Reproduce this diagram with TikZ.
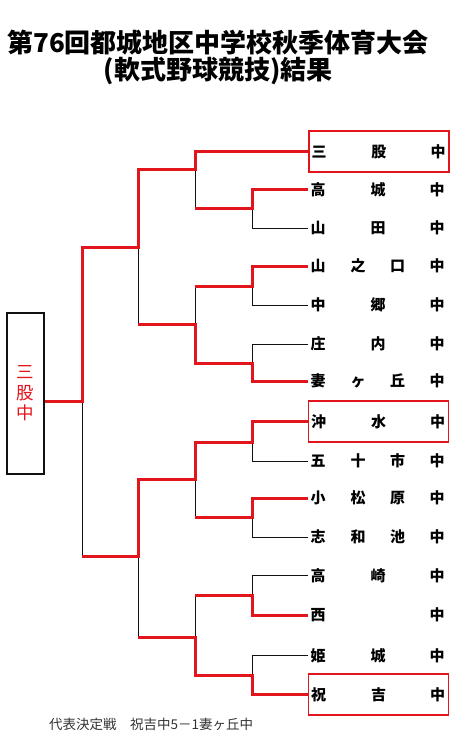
\documentclass[tikz,border=0pt]{standalone}
\usepackage{fontspec}
\newfontfamily\jp{Noto Sans CJK JP}
\newfontfamily\jpheavy{Noto Sans CJK JP Black}
\definecolor{bkRed}{HTML}{E3151C}
\definecolor{bkInk}{HTML}{111111}
\definecolor{bkGray}{HTML}{333333}
\tikzset{
  bk lose/.style={draw=bkInk, line width=1pt},
  bk win/.style={draw=bkRed, line width=3pt},
  bk team/.style={anchor=west, inner sep=0pt, minimum width=140pt, minimum height=41pt, font=\jp\bfseries\fontsize{15}{15}\selectfont},
  bk plain/.style={},
  bk champ box/.style={draw=bkRed, line width=2pt},
  bk win box/.style={draw=bkRed, line width=1.2pt},
  bk root/.style={draw=bkInk, line width=1.7pt, minimum width=37pt, minimum height=161pt, inner sep=0pt, align=center, text=bkRed, font=\jp\fontsize{17.5}{20.5}\selectfont},
  bk title/.style={font=\jpheavy\fontsize{26}{26}\selectfont, inner sep=0pt},
  bk note/.style={font=\jp\fontsize{13.5}{13.5}\selectfont, text=bkGray, inner sep=0pt},
}
\newcommand\bkch[2]{\rlap{\hspace*{#1pt}\makebox[0pt]{#2}}}
\newcommand\bkthree[3]{\hbox to 140pt{\bkch{10}{#1}\bkch{50}{#2}\bkch{89.5}{#3}\bkch{129}{中}\hfil}}
\newcommand\bktwo[2]{\hbox to 140pt{\bkch{10}{#1}\bkch{70}{#2}\bkch{129}{中}\hfil}}
\begin{document}
\begin{tikzpicture}[x=1pt,y=-1pt]
\useasboundingbox (0,0) rectangle (456,751);
\node[bk title] (title1) at (218,42.5) {第76回都城地区中学校秋季体育大会};
\node[bk title] (title2) at (218,71.5) {(軟式野球競技)結果};
\foreach \nm/\yy/\sty/\txt in {mimata/151.5/bk champ box/\bktwo{三}{股}, takajo/190/bk plain/\bktwo{高}{城}, yamada/228/bk plain/\bktwo{山}{田},
  yamanokuchi/266/bk plain/\bkthree{山}{之}{口}, nakago/305/bk plain/\bktwo{中}{郷}, shonai/344/bk plain/\bktwo{庄}{内}, tsumagaoka/381/bk plain/\bkthree{妻}{ヶ}{丘},
  okimizu/421.5/bk win box/\bktwo{沖}{水}, isoichi/461/bk plain/\bkthree{五}{十}{市}, komatsubara/498/bk plain/\bkthree{小}{松}{原}, shiwachi/537/bk plain/\bkthree{志}{和}{池},
  takasaki/575.5/bk plain/\bktwo{高}{崎}, nishi/615/bk plain/\bktwo{西}{}, himeki/655.5/bk plain/\bktwo{姫}{城}, iwayoshi/694.5/bk win box/\bktwo{祝}{吉}}
  {\node[bk team,\sty] (\nm) at (308,\yy) {\txt};}
\node[bk root] (yusho) at (25.5,393.5) {三\\股\\中};
\coordinate (j1) at (252,209); \coordinate (j2) at (252,286); \coordinate (j3) at (252,363); \coordinate (j4) at (252,442);
\coordinate (j5) at (252,517); \coordinate (j6) at (252,595); \coordinate (j7) at (252,675);
\coordinate (s1) at (195,170); \coordinate (s2) at (195,324); \coordinate (s3) at (195,479); \coordinate (s4) at (195,637);
\coordinate (h1) at (138,247); \coordinate (h2) at (138,556); \coordinate (fin) at (82,401);
\foreach \a/\b in {mimata/s1, takajo/j1, yamada/j1, yamanokuchi/j2, nakago/j2, shonai/j3, tsumagaoka/j3, okimizu/j4, isoichi/j4,
  komatsubara/j5, shiwachi/j5, takasaki/j6, nishi/j6, himeki/j7, iwayoshi/j7}{\draw[bk lose] (\a.west) -| (\b);}
\foreach \a/\b in {j1/s1, j2/s2, j3/s2, j4/s3, j5/s3, j6/s4, j7/s4, s1/h1, s2/h1, s3/h2, s4/h2, h1/fin, h2/fin}{\draw[bk lose] (\a) -| (\b);}
\draw[bk win] (mimata.west) -| (s1) -| (h1) -| (fin) -- (fin -| yusho.east);
\draw[bk win] (takajo.west) -| (j1) -- (j1 -| s1);
\draw[bk win] (yamanokuchi.west) -| (j2) -- (j2 -| s2);
\draw[bk win] (tsumagaoka.west) -| (j3) -| (s2) -- (s2 -| h1);
\draw[bk win] (okimizu.west) -| (j4) -| (s3) -| (h2) -- (h2 -| fin);
\draw[bk win] (komatsubara.west) -| (j5) -- (j5 -| s3);
\draw[bk win] (nishi.west) -| (j6) -- (j6 -| s4);
\draw[bk win] (iwayoshi.west) -| (j7) -| (s4) -- (s4 -| h2);
\node[bk note,anchor=west] (result) at (49,724) {代表決定戦　祝吉中5－1妻ヶ丘中};
\end{tikzpicture}
\end{document}
